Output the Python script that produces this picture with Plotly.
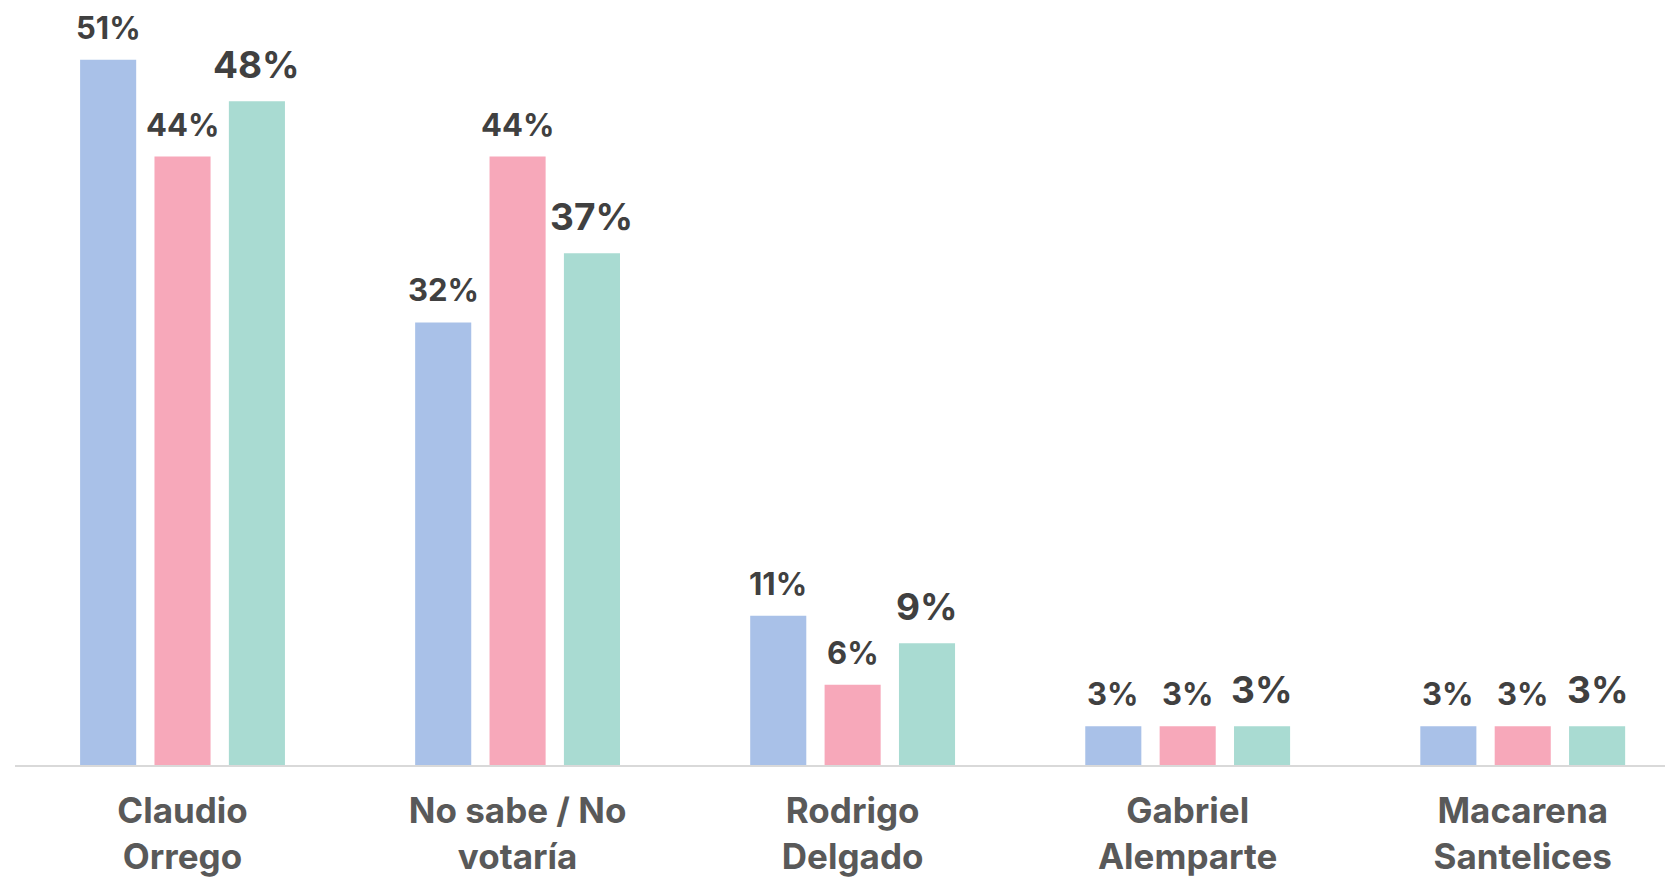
import plotly.graph_objects as go

categories = ["Claudio<br>Orrego", "No sabe / No<br>votaría", "Rodrigo<br>Delgado",
              "Gabriel<br>Alemparte", "Macarena<br>Santelices"]
serie_a = [51, 32, 10.8, 2.8, 2.8]
serie_b = [44, 44, 5.8, 2.8, 2.8]
serie_c = [48, 37, 8.8, 2.8, 2.8]

series = [
    ("Serie A", serie_a, "#A9C1E8", 31, -74.3),
    ("Serie B", serie_b, "#F7A8BA", 31, 0),
    ("Serie C", serie_c, "#A9DBD2", 37, 74.3),
]

FONT = "Inter"
fig = go.Figure()
annotations = []
for name, vals, color, fsize, xs in series:
    fig.add_trace(go.Bar(
        x=categories, y=vals, name=name,
        marker=dict(color=color, line=dict(width=0)),
        hoverinfo="skip",
    ))
    for c, v in zip(categories, vals):
        annotations.append(dict(
            x=c, y=v, xref="x", yref="y", xshift=xs, yshift=12,
            yanchor="bottom", xanchor="center", showarrow=False,
            text=f"{v:.0f}%",
            font=dict(family=FONT, size=fsize, color="#404040", weight=700),
        ))

fig.update_layout(
    width=1665, height=872,
    margin=dict(l=7, r=0, t=0, b=115, autoexpand=False),
    paper_bgcolor="white", plot_bgcolor="white",
    barmode="group", bargap=0.334, bargroupgap=0.246,
    showlegend=False,
    annotations=annotations,
    xaxis=dict(
        range=[-0.5, 4.4485], automargin=False,
        showline=True, linecolor="#D9D9D9", linewidth=2,
        showgrid=False, zeroline=False, ticks="",
        ticklabelstandoff=14,
        tickfont=dict(family=FONT, size=35, color="#595959", weight=700),
    ),
    yaxis=dict(range=[0, 54.74], visible=False, automargin=False,
               showgrid=False, zeroline=False),
)

fig.write_html("out.html")
